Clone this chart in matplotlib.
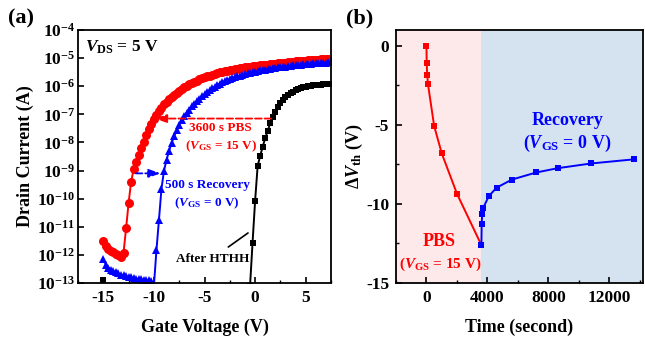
import numpy as np
import matplotlib.pyplot as plt
from matplotlib.ticker import FixedLocator, MultipleLocator, FuncFormatter

plt.rcParams['font.family'] = ['Liberation Serif', 'DejaVu Serif']
plt.rcParams['font.weight'] = 'bold'
plt.rcParams['axes.labelweight'] = 'bold'
plt.rcParams['axes.unicode_minus'] = False
plt.rcParams['mathtext.fontset'] = 'custom'
plt.rcParams['mathtext.rm'] = 'Liberation Serif:bold'
plt.rcParams['mathtext.bf'] = 'Liberation Serif:bold'
plt.rcParams['mathtext.it'] = 'Liberation Serif:italic:bold'

# ---- panel (a): transfer curves, log10 of drain current (A) ----
vg = np.arange(-15, 7.51, 0.25)

log_id_pbs = [
    -11.51, -11.68, -11.78, -11.85, -11.91, -11.96, -12.02, -12.07, -11.92, -11.06,
    -10.15, -9.40, -8.95, -8.68, -8.45, -8.21, -7.98, -7.74, -7.52, -7.33,
    -7.17, -7.02, -6.88, -6.76, -6.65, -6.55, -6.46, -6.38, -6.30, -6.23,
    -6.16, -6.10, -6.04, -5.98, -5.93, -5.88, -5.84, -5.80, -5.76, -5.72,
    -5.68, -5.65, -5.62, -5.59, -5.56, -5.53, -5.51, -5.49, -5.47, -5.45,
    -5.43, -5.41, -5.39, -5.37, -5.36, -5.34, -5.33, -5.31, -5.30, -5.29,
    -5.28, -5.27, -5.26, -5.25, -5.24, -5.23, -5.22, -5.21, -5.20, -5.19,
    -5.18, -5.17, -5.16, -5.15, -5.14, -5.13, -5.12, -5.11, -5.10, -5.10,
    -5.09, -5.08, -5.07, -5.06, -5.06, -5.05, -5.04, -5.04, -5.03, -5.02,
    -5.02]

log_id_rec = [
    -12.13, -12.35, -12.45, -12.52, -12.57, -12.62, -12.66, -12.70, -12.73, -12.76,
    -12.78, -12.80, -12.82, -12.84, -12.85, -12.87, -12.88, -12.89, -12.90, -12.92,
    -13.10, -11.84, -10.75, -9.64, -9.00, -8.62, -8.30, -8.02, -7.78, -7.57,
    -7.38, -7.21, -7.07, -6.95, -6.83, -6.72, -6.62, -6.53, -6.44, -6.36,
    -6.28, -6.21, -6.14, -6.08, -6.02, -5.96, -5.91, -5.86, -5.82, -5.78,
    -5.74, -5.71, -5.68, -5.65, -5.62, -5.59, -5.57, -5.54, -5.52, -5.50,
    -5.48, -5.46, -5.44, -5.42, -5.41, -5.39, -5.38, -5.36, -5.35, -5.33,
    -5.32, -5.31, -5.30, -5.29, -5.27, -5.26, -5.25, -5.24, -5.23, -5.22,
    -5.21, -5.21, -5.20, -5.19, -5.18, -5.18, -5.17, -5.16, -5.16, -5.15,
    -5.15]

# after HTHH: only a few points are inside the plotted range
vg_hthh = [-15, -14.75, -0.75, -0.5, -0.25, 0, 0.25, 0.5, 0.75, 1.0, 1.25, 1.5, 1.75,
           2.0, 2.25, 2.5, 2.75, 3.0, 3.25, 3.5, 3.75, 4.0, 4.25, 4.5, 4.75, 5.0,
           5.25, 5.5, 5.75, 6.0, 6.25, 6.5, 6.75, 7.0, 7.25, 7.5]
log_id_hthh = [-12.88, -14.5, -14.5, -13.1, -11.56, -10.08, -8.84, -8.48, -8.15, -7.85,
               -7.58, -7.32, -7.08, -6.90, -6.73, -6.59, -6.48, -6.40, -6.32, -6.25,
               -6.19, -6.14, -6.10, -6.06, -6.03, -6.01, -5.99, -5.98, -5.97, -5.96,
               -5.95, -5.94, -5.93, -5.93, -5.92, -5.92]

# ---- panel (b): threshold voltage shift ----
t_pbs = [0, 10, 50, 100, 500, 1000, 2000, 3600]
dvth_pbs = [0.0, -1.09, -1.86, -2.44, -5.06, -6.8, -9.36, -12.6]
t_rec = [3600, 3620, 3650, 3700, 4100, 4600, 5600, 7200, 8600, 10800, 13600]
dvth_rec = [-12.6, -11.27, -10.64, -10.28, -9.49, -8.97, -8.46, -8.01, -7.74, -7.44, -7.18]

red = '#ff0000'
blue = '#0000ff'

fig = plt.figure(figsize=(6.45, 3.37), dpi=100)
ax1 = fig.add_axes([78 / 645, 1 - 283 / 337, 253 / 645, 253 / 337])
ax2 = fig.add_axes([396 / 645, 1 - 283 / 337, 247 / 645, 253 / 337])

# (a)
ax1.plot(vg, 10 ** np.array(log_id_pbs), '-o', color=red, ms=6.5, lw=1.4, mew=0)
ax1.plot(vg, 10 ** np.array(log_id_rec), '-^', color=blue, ms=5.5, lw=1.4, mew=0)
ax1.plot(vg_hthh, 10 ** np.array(log_id_hthh), '-s', color='black', ms=4.5, lw=1.4, mew=0)
ax1.set_yscale('log')
ax1.set_xlim(-17.5, 7.5)
ax1.set_ylim(1e-13, 1e-4)
ax1.yaxis.set_major_locator(FixedLocator([10.0 ** k for k in range(-13, -3)]))
ax1.yaxis.set_minor_locator(FixedLocator([]))
ax1.yaxis.set_major_formatter(FuncFormatter(lambda v, p: r'$\mathbf{10^{%d}}$' % round(np.log10(v))))
ax1.xaxis.set_major_locator(FixedLocator([-15, -10, -5, 0, 5]))
ax1.xaxis.set_minor_locator(MultipleLocator(2.5))
ax1.set_xlabel('Gate Voltage (V)', fontsize=13, labelpad=9)
ax1.set_ylabel('Drain Current (A)', fontsize=13, labelpad=2)

ax1.text(-16.8, 10 ** -4.6, r'$\mathit{V}_{\mathbf{DS}}$ = 5 V', fontsize=12.5, va='center')
ax1.annotate('', xy=(-9.9, 10 ** -7.15), xytext=(1.6, 10 ** -7.15),
             arrowprops=dict(arrowstyle='-|>,head_length=0.7,head_width=0.25', color=red,
                             lw=1.3, ls='--', shrinkA=0, shrinkB=0))
ax1.text(-3.4, 10 ** -7.5, '3600 s PBS', color=red, fontsize=9.5, ha='center', va='center')
ax1.text(-3.4, 10 ** -8.15, r'($\mathit{V}_{\mathbf{GS}}$ = 15 V)', color=red, fontsize=9.5,
         ha='center', va='center')
ax1.annotate('', xy=(-9.35, 10 ** -9.1), xytext=(-11.8, 10 ** -9.1),
             arrowprops=dict(arrowstyle='-|>,head_length=0.7,head_width=0.25', color=blue,
                             lw=1.3, ls='--', shrinkA=0, shrinkB=0))
ax1.text(-4.75, 10 ** -9.52, '500 s Recovery', color=blue, fontsize=9.5, ha='center', va='center')
ax1.text(-4.75, 10 ** -10.15, r'($\mathit{V}_{\mathbf{GS}}$ = 0 V)', color=blue, fontsize=9.5,
         ha='center', va='center')
ax1.text(-4.2, 10 ** -12.13, 'After HTHH', color='black', fontsize=9.5, ha='center', va='center')
ax1.annotate('', xy=(-0.7, 10 ** -11.22), xytext=(-2.65, 10 ** -11.72),
             arrowprops=dict(arrowstyle='-', color='black', lw=1.2, shrinkA=0, shrinkB=0))

# (b)
ax2.axvspan(-2000, 3600, color='#fde9e9', lw=0, zorder=0)
ax2.axvspan(3600, 14200, color='#d5e3f1', lw=0, zorder=0)
ax2.plot(t_pbs, dvth_pbs, '-s', color=red, ms=4.5, lw=1.4, mew=0)
ax2.plot(t_rec, dvth_rec, '-s', color=blue, ms=4.5, lw=1.4, mew=0)
ax2.set_xlim(-2000, 14200)
ax2.set_ylim(-15, 1)
ax2.xaxis.set_major_locator(FixedLocator([0, 4000, 8000, 12000]))
ax2.xaxis.set_minor_locator(MultipleLocator(2000))
ax2.yaxis.set_major_locator(FixedLocator([0, -5, -10, -15]))
ax2.yaxis.set_minor_locator(MultipleLocator(2.5))
ax2.set_xlabel('Time (second)', fontsize=13, labelpad=9)
ax2.set_ylabel('Δ' + r'$\mathit{V}_{\mathbf{th}}$ (V)', fontsize=13, labelpad=1)
ax2.text(9250, -4.72, 'Recovery', color=blue, fontsize=13, ha='center', va='center')
ax2.text(9250, -6.2, r'($\mathit{V}_{\mathbf{GS}}$ = 0 V)', color=blue, fontsize=13,
         ha='center', va='center')
ax2.text(850, -12.4, 'PBS', color=red, fontsize=13, ha='center', va='center')
ax2.text(900, -13.8, r'($\mathit{V}_{\mathbf{GS}}$ = 15 V)', color=red, fontsize=11,
         ha='center', va='center')

for ax in (ax1, ax2):
    for s in ax.spines.values():
        s.set_linewidth(1.3)
    ax.tick_params(which='major', direction='in', length=4, width=1.2, labelsize=12.5, pad=5)
    ax.tick_params(which='minor', direction='in', length=2.5, width=1.0)
    for lab in ax.get_xticklabels() + ax.get_yticklabels():
        lab.set_fontweight('bold')

ax1.tick_params(axis='y', labelsize=12.5, pad=2)

fig.text(8 / 645, 1 - 18 / 337, '(a)', fontsize=16, va='center', ha='left')
fig.text(346 / 645, 1 - 18 / 337, '(b)', fontsize=16, va='center', ha='left')

fig.savefig('out.png', dpi=100)
